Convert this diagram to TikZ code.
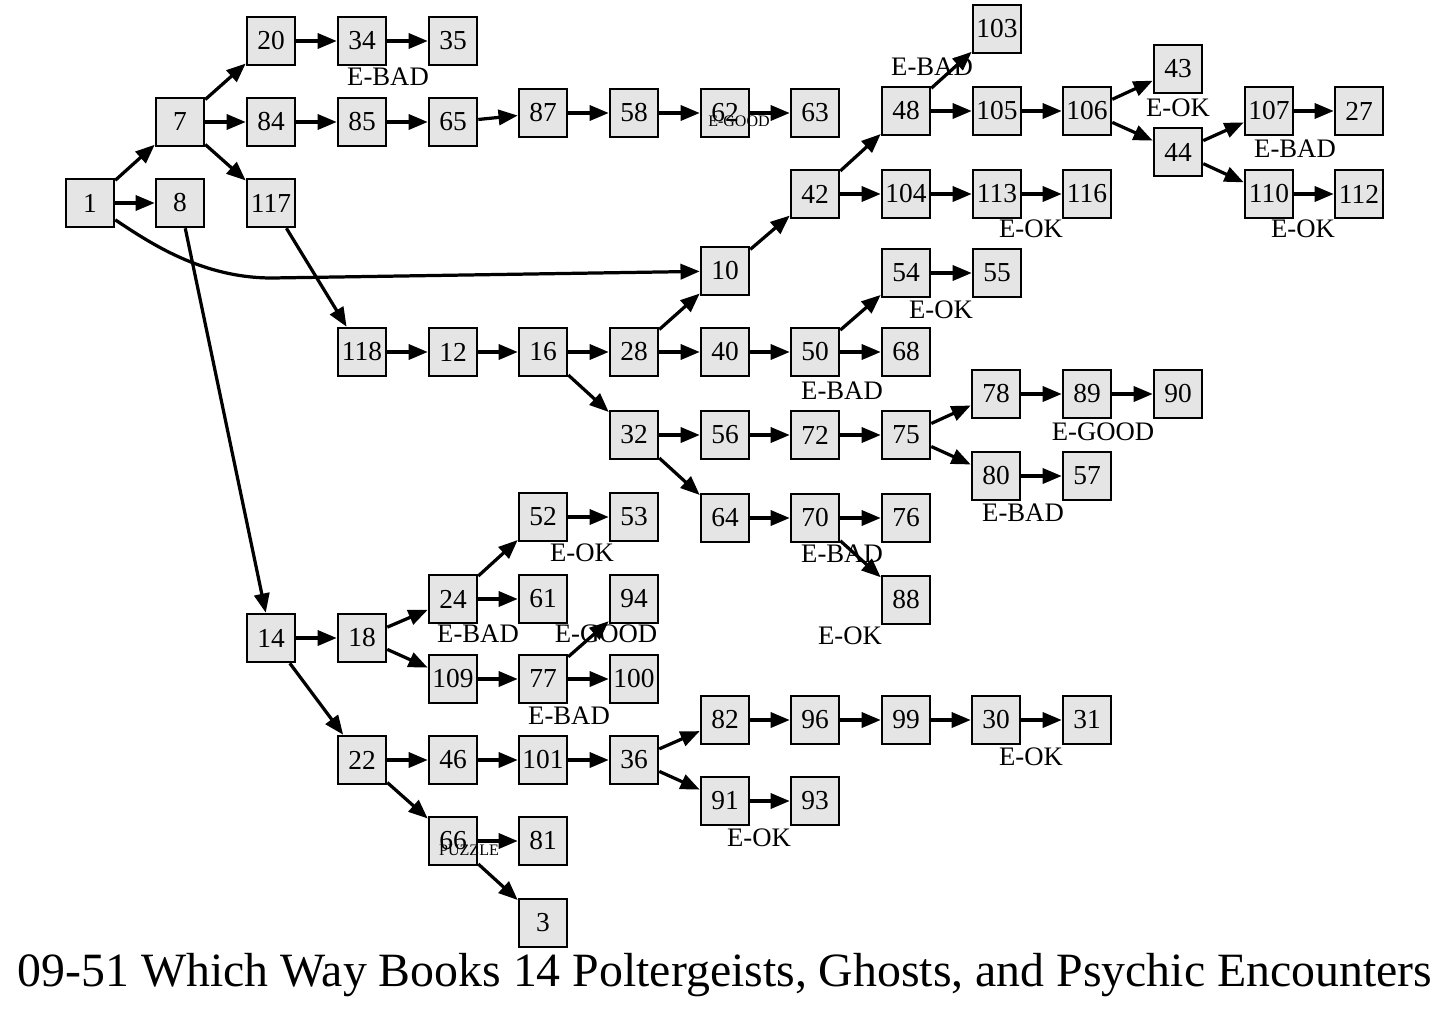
\documentclass[tikz,border=0pt]{standalone}
\usepackage{fontspec}
\setmainfont{Liberation Serif}
\usepackage{tikz}
\usetikzlibrary{arrows.meta,positioning}
\tikzset{
  caja/.style={rectangle, draw=black, fill=gray!20, line width=1.8pt,
               minimum width=1.2cm, minimum height=1.2cm, inner sep=0pt,
               font=\fontsize{19.5}{22}\selectfont},
  fin/.style={inner sep=0pt, font=\fontsize{19}{22}\selectfont},
  finchico/.style={inner sep=0pt, font=\fontsize{11.4}{13}\selectfont},
  flecha/.style={-{Triangle[length=0.48cm,width=0.38cm]}, line width=2.3pt}
}
\begin{document}
\begin{tikzpicture}[x=0.025cm, y=-0.025cm]
  \useasboundingbox (0,0) rectangle (1451,1011);
  % Columna de inicio
  \node[caja] (n1) at (90,203) {1};
  \node[caja] (n7) at (180,122) {7};
  \node[caja] (n8) at (180,203) {8};
  \node[caja] (n20) at (271,41) {20};
  \node[caja] (n84) at (271,122) {84};
  \node[caja] (n117) at (271,203) {117};
  \node[caja] (n14) at (271,638) {14};
  % Rama superior
  \node[caja] (n34) at (362,41) {34};
  \node[caja] (n35) at (453,41) {35};
  \node[caja] (n85) at (362,122) {85};
  \node[caja] (n65) at (453,122) {65};
  \node[caja] (n87) at (543,113) {87};
  \node[caja] (n58) at (634,113) {58};
  \node[caja] (n62) at (725,113) {62};
  \node[caja] (n63) at (815,113) {63};
  % Rama central
  \node[caja] (n118) at (362,352) {118};
  \node[caja] (n12) at (453,352) {12};
  \node[caja] (n16) at (543,352) {16};
  \node[caja] (n28) at (634,352) {28};
  \node[caja] (n32) at (634,435) {32};
  \node[caja] (n10) at (725,271) {10};
  \node[caja] (n40) at (725,352) {40};
  \node[caja] (n42) at (815,194) {42};
  \node[caja] (n50) at (815,352) {50};
  \node[caja] (n48) at (906,111) {48};
  \node[caja] (n104) at (906,194) {104};
  \node[caja] (n54) at (906,273) {54};
  \node[caja] (n68) at (906,352) {68};
  \node[caja] (n103) at (997,29) {103};
  \node[caja] (n105) at (997,111) {105};
  \node[caja] (n113) at (997,194) {113};
  \node[caja] (n55) at (997,273) {55};
  \node[caja] (n106) at (1087,111) {106};
  \node[caja] (n116) at (1087,194) {116};
  \node[caja] (n43) at (1178,69) {43};
  \node[caja] (n44) at (1178,152) {44};
  \node[caja] (n107) at (1269,111) {107};
  \node[caja] (n110) at (1269,194) {110};
  \node[caja] (n27) at (1359,111) {27};
  \node[caja] (n112) at (1359,194) {112};
  \node[caja] (n56) at (725,435) {56};
  \node[caja] (n64) at (725,518) {64};
  \node[caja] (n72) at (815,435) {72};
  \node[caja] (n70) at (815,518) {70};
  \node[caja] (n75) at (906,435) {75};
  \node[caja] (n76) at (906,518) {76};
  \node[caja] (n88) at (906,600) {88};
  \node[caja] (n78) at (996,394) {78};
  \node[caja] (n80) at (996,476) {80};
  \node[caja] (n89) at (1087,394) {89};
  \node[caja] (n57) at (1087,476) {57};
  \node[caja] (n90) at (1178,394) {90};
  % Rama inferior
  \node[caja] (n18) at (362,638) {18};
  \node[caja] (n22) at (362,760) {22};
  \node[caja] (n24) at (453,599) {24};
  \node[caja] (n109) at (453,679) {109};
  \node[caja] (n52) at (543,517) {52};
  \node[caja] (n61) at (543,599) {61};
  \node[caja] (n77) at (543,679) {77};
  \node[caja] (n53) at (634,517) {53};
  \node[caja] (n94) at (634,599) {94};
  \node[caja] (n100) at (634,679) {100};
  \node[caja] (n46) at (453,760) {46};
  \node[caja] (n66) at (453,841) {66};
  \node[caja] (n101) at (543,760) {101};
  \node[caja] (n81) at (543,841) {81};
  \node[caja] (n3) at (543,923) {3};
  \node[caja] (n36) at (634,760) {36};
  \node[caja] (n82) at (725,720) {82};
  \node[caja] (n91) at (725,801) {91};
  \node[caja] (n96) at (815,720) {96};
  \node[caja] (n93) at (815,801) {93};
  \node[caja] (n99) at (906,720) {99};
  \node[caja] (n30) at (996,720) {30};
  \node[caja] (n31) at (1087,720) {31};

  % Finales
  \node[fin] (l35) at (388,77) {E-BAD};
  \node[fin] (l103) at (932,67) {E-BAD};
  \node[fin] (l43) at (1178,108) {E-OK};
  \node[fin] (l27) at (1295,149) {E-BAD};
  \node[fin] (l112) at (1303,229) {E-OK};
  \node[fin] (l116) at (1031,229) {E-OK};
  \node[fin] (l55) at (941,310) {E-OK};
  \node[fin] (l68) at (842,391) {E-BAD};
  \node[fin] (l90) at (1103,432) {E-GOOD};
  \node[fin] (l57) at (1023,513) {E-BAD};
  \node[fin] (l76) at (842,554) {E-BAD};
  \node[fin] (l88) at (850,636) {E-OK};
  \node[fin] (l53) at (582,553) {E-OK};
  \node[fin] (l61) at (478,634) {E-BAD};
  \node[fin] (l94) at (606,634) {E-GOOD};
  \node[fin] (l100) at (569,716) {E-BAD};
  \node[fin] (l31) at (1031,757) {E-OK};
  \node[fin] (l93) at (759,838) {E-OK};
  \node[finchico] (l63) at (739,121) {E-GOOD};
  \node[finchico] (l81) at (469,850) {PUZZLE};

  % Conexiones
  \draw[flecha](n1)--(n7);\draw[flecha](n1)--(n8);
  \coordinate (curva) at (272,278);
  \draw[flecha](n1) .. controls +(60,40) and +(-70,0) .. (curva) -- (n10);
  \draw[flecha](n7)--(n20);\draw[flecha](n7)--(n84);\draw[flecha](n7)--(n117);
  \draw[flecha](n20)--(n34);\draw[flecha](n34)--(n35);
  \draw[flecha](n84)--(n85);\draw[flecha](n85)--(n65);\draw[flecha](n65)--(n87);
  \draw[flecha](n87)--(n58);\draw[flecha](n58)--(n62);\draw[flecha](n62)--(n63);
  \draw[flecha](n8)--(n14);\draw[flecha](n117)--(n118);
  \draw[flecha](n118)--(n12);\draw[flecha](n12)--(n16);
  \draw[flecha](n16)--(n28);\draw[flecha](n16)--(n32);
  \draw[flecha](n28)--(n10);\draw[flecha](n28)--(n40);
  \draw[flecha](n10)--(n42);\draw[flecha](n42)--(n48);\draw[flecha](n42)--(n104);
  \draw[flecha](n48)--(n103);\draw[flecha](n48)--(n105);\draw[flecha](n105)--(n106);
  \draw[flecha](n106)--(n43);\draw[flecha](n106)--(n44);
  \draw[flecha](n44)--(n107);\draw[flecha](n44)--(n110);
  \draw[flecha](n107)--(n27);\draw[flecha](n110)--(n112);
  \draw[flecha](n104)--(n113);\draw[flecha](n113)--(n116);
  \draw[flecha](n40)--(n50);\draw[flecha](n50)--(n54);\draw[flecha](n50)--(n68);
  \draw[flecha](n54)--(n55);
  \draw[flecha](n32)--(n56);\draw[flecha](n32)--(n64);
  \draw[flecha](n56)--(n72);\draw[flecha](n72)--(n75);
  \draw[flecha](n75)--(n78);\draw[flecha](n75)--(n80);
  \draw[flecha](n78)--(n89);\draw[flecha](n89)--(n90);\draw[flecha](n80)--(n57);
  \draw[flecha](n64)--(n70);\draw[flecha](n70)--(n76);\draw[flecha](n70)--(n88);
  \draw[flecha](n14)--(n18);\draw[flecha](n14)--(n22);
  \draw[flecha](n18)--(n24);\draw[flecha](n18)--(n109);
  \draw[flecha](n24)--(n52);\draw[flecha](n24)--(n61);\draw[flecha](n52)--(n53);
  \draw[flecha](n109)--(n77);\draw[flecha](n77)--(n94);\draw[flecha](n77)--(n100);
  \draw[flecha](n22)--(n46);\draw[flecha](n22)--(n66);
  \draw[flecha](n46)--(n101);\draw[flecha](n101)--(n36);
  \draw[flecha](n36)--(n82);\draw[flecha](n36)--(n91);
  \draw[flecha](n82)--(n96);\draw[flecha](n96)--(n99);
  \draw[flecha](n99)--(n30);\draw[flecha](n30)--(n31);
  \draw[flecha](n91)--(n93);
  \draw[flecha](n66)--(n81);\draw[flecha](n66)--(n3);

  \node[font=\fontsize{34}{38}\selectfont] (titulo) at (725,975)
    {09-51 Which Way Books 14 Poltergeists, Ghosts, and Psychic Encounters};
\end{tikzpicture}
\end{document}
